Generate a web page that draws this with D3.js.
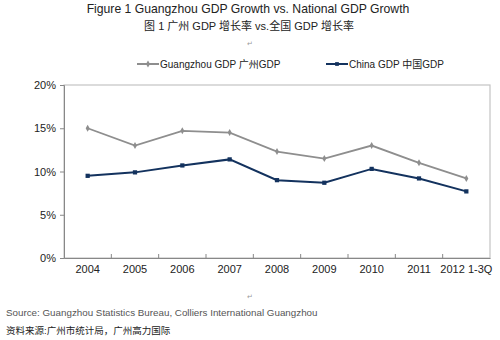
<!DOCTYPE html>
<html>
<head>
<meta charset="utf-8">
<script src="https://cdn.jsdelivr.net/npm/d3@7"></script>
<style>
  body { margin: 0; background: #fff; }
  text { font-family: "Liberation Sans", Arial, "Noto Sans CJK SC", sans-serif; }
</style>
</head>
<body>
<div id="chart"></div>
<script>
// Guangzhou vs national GDP growth, 2004 - 2012 1-3Q

const years = ['2004', '2005', '2006', '2007', '2008', '2009', '2010', '2011', '2012 1-3Q'];
const guangzhouGrowth = [15.0, 13.0, 14.7, 14.5, 12.3, 11.5, 13.0, 11.0, 9.2];
const chinaGrowth = [9.5, 9.9, 10.7, 11.4, 9.0, 8.7, 10.3, 9.2, 7.7];
const yTicks = [0, 5, 10, 15, 20];

const W = 500, H = 340;
const margin = { left: 64, top: 85, right: 10, bottom: 82 };
const width = W - margin.left - margin.right;
const height = H - margin.top - margin.bottom;

const svg = d3.select('#chart').append('svg')
  .attr('width', W)
  .attr('height', H);

// titles
svg.append('text')
  .attr('x', 248).attr('y', 13)
  .attr('text-anchor', 'middle')
  .attr('font-size', 12.2)
  .attr('fill', '#222')
  .text('Figure 1 Guangzhou GDP Growth vs. National GDP Growth');
svg.append('text')
  .attr('x', 249).attr('y', 30)
  .attr('text-anchor', 'middle')
  .attr('font-size', 11)
  .attr('fill', '#222')
  .text('图 1 广州 GDP 增长率 vs.全国 GDP 增长率');
svg.append('text')
  .attr('x', 250).attr('y', 46)
  .attr('text-anchor', 'middle')
  .attr('font-size', 7)
  .attr('fill', '#999')
  .text('↵');

const x = d3.scaleBand()
  .domain(years)
  .range([0, width]);
const y = d3.scaleLinear()
  .domain([0, 20])
  .range([height, 0]);

const frame = svg.append('g')
  .attr('transform', `translate(${margin.left}, ${margin.top})`);

// plot border
frame.append('rect')
  .attr('width', width).attr('height', height)
  .attr('fill', 'none')
  .attr('stroke', '#c4c4c4')
  .attr('stroke-width', 1.2);

const yAxis = frame.append('g')
  .call(d3.axisLeft(y).tickValues(yTicks).tickSize(4).tickPadding(4).tickFormat(d => d + '%'));
yAxis.select('.domain').attr('stroke', '#888');
yAxis.selectAll('line').attr('stroke', '#888');
yAxis.selectAll('text').attr('font-size', 11).attr('fill', '#222')
  .attr('font-family', '"Liberation Sans", Arial, sans-serif');

const xAxis = frame.append('g')
  .attr('transform', `translate(0, ${height})`)
  .call(d3.axisBottom(x).tickSize(0).tickPadding(7));
xAxis.select('.domain').attr('stroke', '#888');
xAxis.selectAll('text').attr('font-size', 11).attr('fill', '#222')
  .attr('font-family', '"Liberation Sans", Arial, sans-serif');

// tick marks between categories, pointing up
frame.append('g')
  .selectAll('line')
  .data(years.slice(1))
  .enter()
    .append('line')
    .attr('x1', d => x(d)).attr('x2', d => x(d))
    .attr('y1', height).attr('y2', height - 4)
    .attr('stroke', '#888');

const cx = d => x(d) + x.bandwidth() / 2;

const series = [
  { name: 'Guangzhou GDP 广州GDP', values: guangzhouGrowth, color: '#8e8e8e', marker: 'diamond' },
  { name: 'China GDP 中国GDP', values: chinaGrowth, color: '#13325e', marker: 'square' },
];

const line = d3.line()
  .x((d, i) => cx(years[i]))
  .y(d => y(d));

series.forEach(s => {
  frame.append('path')
    .datum(s.values)
    .attr('fill', 'none')
    .attr('stroke', s.color)
    .attr('stroke-width', s.marker === 'square' ? 2 : 1.8)
    .attr('d', line);

  frame.append('g')
    .selectAll('path')
    .data(s.values)
    .enter()
      .append('path')
      .attr('transform', (d, i) => `translate(${cx(years[i])}, ${y(d)})`)
      .attr('fill', s.color)
      .attr('d', d3.symbol().type(s.marker === 'square' ? d3.symbolSquare : d3.symbolDiamond).size(s.marker === 'square' ? 18 : 14)());
});

// legend
const legendItems = [
  { x: 137, s: series[0] },
  { x: 326, s: series[1] },
];
const legend = svg.append('g').attr('transform', 'translate(0, 64)');
legendItems.forEach(l => {
  legend.append('line')
    .attr('x1', l.x).attr('x2', l.x + 22)
    .attr('stroke', l.s.color)
    .attr('stroke-width', 2);
  legend.append('path')
    .attr('transform', `translate(${l.x + 11}, 0)`)
    .attr('fill', l.s.color)
    .attr('d', d3.symbol().type(l.s.marker === 'square' ? d3.symbolSquare : d3.symbolDiamond).size(14)());
  legend.append('text')
    .attr('x', l.x + 23).attr('y', 4)
    .attr('font-size', 10)
    .attr('fill', '#222')
    .text(l.s.name);
});

// footer
svg.append('text')
  .attr('x', 250).attr('y', 299)
  .attr('text-anchor', 'middle')
  .attr('font-size', 7)
  .attr('fill', '#999')
  .text('↵');
svg.append('text')
  .attr('x', 6).attr('y', 316)
  .attr('font-size', 9.8)
  .attr('fill', '#555')
  .text('Source: Guangzhou Statistics Bureau, Colliers International Guangzhou');
svg.append('text')
  .attr('x', 6).attr('y', 334)
  .attr('font-size', 9.5)
  .attr('fill', '#222')
  .text('资料来源:广州市统计局，广州高力国际');
</script>
</body>
</html>
